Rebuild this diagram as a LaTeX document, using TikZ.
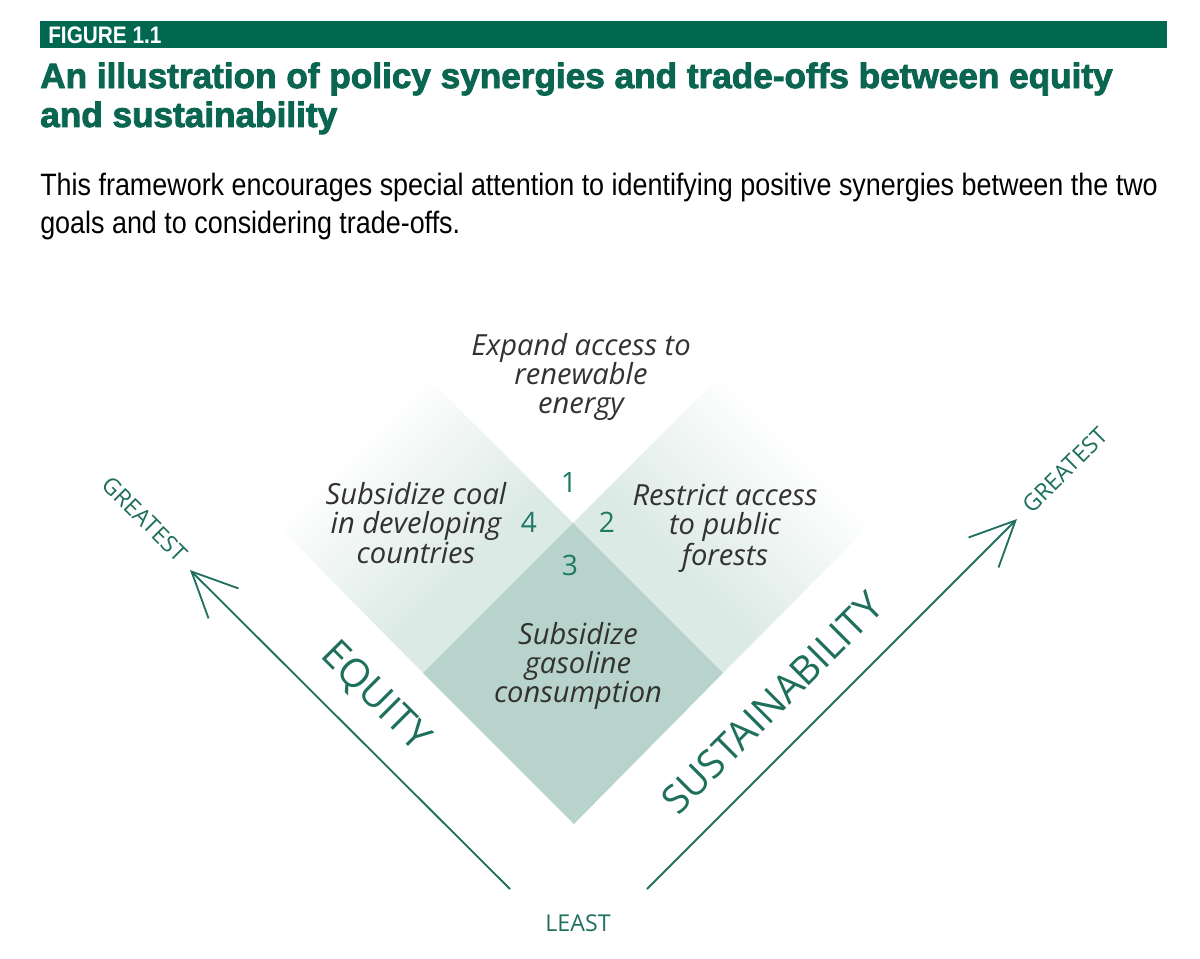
\documentclass[tikz,border=0pt]{standalone}
\usepackage{fontspec}
\setmainfont{Liberation Sans}
\newfontfamily\headfont[FakeBold=2.5]{Liberation Sans}
\newfontfamily\condfont[FakeStretch=0.87]{Liberation Sans}
\newfontfamily\diagfont{Open Sans}
\usetikzlibrary{arrows.meta}

\definecolor{figgreen}{RGB}{0,104,80}
\definecolor{titlegreen}{RGB}{10,102,80}
\definecolor{axisgreen}{RGB}{30,112,92}
\definecolor{numgreen}{RGB}{30,122,100}
\definecolor{bandfill}{RGB}{220,234,229}
\definecolor{corefill}{RGB}{184,211,203}
\definecolor{labelgrey}{RGB}{50,50,50}

\pgfdeclareverticalshading{fadeband}{100bp}{color(0bp)=(bandfill); color(40bp)=(bandfill); color(68bp)=(white); color(100bp)=(white)}

\tikzset{
  policy/.style={align=center, text=labelgrey, inner sep=0pt,
    font=\diagfont\itshape\fontsize{20.7}{20.7}\selectfont},
  quadnum/.style={text=numgreen, inner sep=0pt, font=\diagfont\fontsize{20}{20}\selectfont},
  goal/.style={text=axisgreen, inner sep=0pt, font=\diagfont\fontsize{28}{30}\selectfont},
  scaleend/.style={text=axisgreen, inner sep=0pt, font=\diagfont\fontsize{16.5}{18}\selectfont},
  axisline/.style={draw=axisgreen, line width=1.3pt,
    -{Straight Barb[length=11.3mm, width=10.6mm, line width=1.3pt]}}
}

\begin{document}
\begin{tikzpicture}[x=0.025cm, y=-0.025cm]
  \useasboundingbox (0,0) rectangle (1200,958);

  \fill[figgreen] (40,21) rectangle (1167,48);
  \node[anchor=base west, inner sep=0pt, text=white, font=\condfont\bfseries\fontsize{17}{18}\selectfont] (figno) at (48,44) {FIGURE 1.1};
  \node[anchor=base west, inner sep=0pt, text=titlegreen, align=left, font=\headfont\bfseries\fontsize{25}{27.7}\selectfont] (title) at (40,127) {An illustration of policy synergies and trade-offs between equity\\and sustainability};
  \node[anchor=base west, inner sep=0pt, text=black, align=left, font=\condfont\fontsize{22}{27}\selectfont] (intro) at (40,233) {This framework encourages special attention to identifying positive synergies between the two\\goals and to considering trade-offs.};

  \shade[shading=fadeband, shading angle=45] (275,523) -- (423,373) -- (573,523) -- (423,673) -- cycle;
  \shade[shading=fadeband, shading angle=-45] (573,523) -- (723,373) -- (872,523) -- (723,673) -- cycle;
  \fill[corefill] (573,523) -- (723,673) -- (574,824) -- (423,673) -- cycle;

  \node[policy] (expand) at (581,377) {Expand access to\\renewable\\energy};
  \node[policy] (coal) at (416,523) {Subsidize coal\\in developing\\countries};
  \node[policy] (forest) at (725,528) {Restrict access\\to public\\forests};
  \node[policy] (gasoline) at (578,666) {Subsidize\\gasoline\\consumption};

  \node[quadnum] (q1) at (569,482) {1};
  \node[quadnum] (q2) at (607,522) {2};
  \node[quadnum] (q3) at (570,565) {3};
  \node[quadnum] (q4) at (529,522) {4};

  \coordinate (eqlow) at (510,889);
  \coordinate (eqhigh) at (190,570);
  \coordinate (sulow) at (647,889);
  \coordinate (suhigh) at (1017,519);
  \draw[axisline] (eqlow) -- (eqhigh);
  \draw[axisline] (sulow) -- (suhigh);

  \node[goal, rotate=-45] (equity) at (375,697) {EQUITY};
  \node[goal, rotate=45] (sustain) at (772,703) {SUSTAINABILITY};
  \node[scaleend, rotate=-45] (eqtop) at (145,519) {GREATEST};
  \node[scaleend, rotate=45] (sutop) at (1065,470) {GREATEST};
  \node[scaleend] (least) at (578,923) {LEAST};
\end{tikzpicture}
\end{document}
